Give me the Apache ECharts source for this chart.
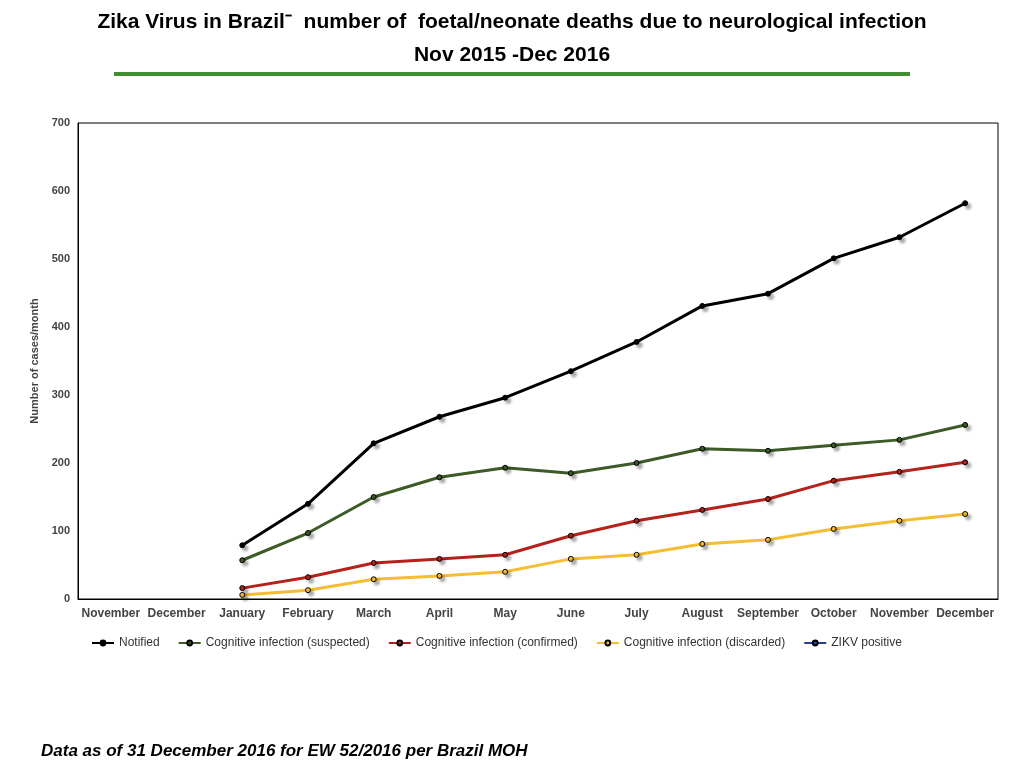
<!DOCTYPE html>
<html><head><meta charset="utf-8">
<script src="https://cdn.jsdelivr.net/npm/echarts@6/dist/echarts.min.js"></script>
<style>html,body{margin:0;background:#fff}#c{width:1024px;height:768px}</style>
</head><body><div id="c"></div>
<script>
const categories = ["November","December","January","February","March","April","May","June","July","August","September","October","November","December"];
const notified   = [null,null,79,140,229,268,296,335,378,431,449,501,532,582];
const suspected  = [null,null,57,97,150,179,193,185,200,221,218,226,234,256];
const confirmed  = [null,null,16,32,53,59,65,93,115,131,147,174,187,201];
const discarded  = [null,null,6,13,29,34,40,59,65,81,87,103,115,125];
const zikv       = [];
const chart = echarts.init(document.getElementById('c'));
function s(name, data, color, width){
  return {name, type:'line', data, symbol:'circle', symbolSize:5, connectNulls:false,
    lineStyle:{color, width}, itemStyle:{color, borderColor:'#000', borderWidth:1,
    shadowColor:'rgba(0,0,0,0.35)', shadowBlur:3, shadowOffsetX:3, shadowOffsetY:3}};
}
chart.setOption({
  animation:false,
  title:[{text:'Data as of 31 December 2016 for EW 52/2016 per Brazil MOH', left:36, top:738,
    textStyle:{fontFamily:'Liberation Sans',fontSize:17,fontWeight:'bold',fontStyle:'italic',color:'#000'}}],
  graphic:[
    {type:'text',left:'center',top:12,style:{text:'Zika Virus in Brazil⁻  number of  foetal/neonate deaths due to neurological infection',
      font:'bold 21px "Liberation Sans"',fill:'#000'}},
    {type:'text',left:'center',top:45,style:{text:'Nov 2015 -Dec 2016',font:'bold 21px "Liberation Sans"',fill:'#000'}},
    {type:'line',shape:{x1:114,y1:74,x2:910,y2:74},style:{stroke:'#3f8f2f',lineWidth:4}}],
  legend:{left:86, top:632, itemWidth:22, itemHeight:6, itemGap:18,
    textStyle:{fontFamily:'Liberation Sans',fontSize:12,color:'#333'},
    data:['Notified','Cognitive infection (suspected)','Cognitive infection (confirmed)','Cognitive infection (discarded)','ZIKV positive']},
  grid:{left:78, right:26, top:123, bottom:169, show:true, borderColor:'#000', borderWidth:1},
  xAxis:{type:'category', data:categories, boundaryGap:true,
    axisLine:{lineStyle:{color:'#000'}}, axisTick:{show:false},
    axisLabel:{fontFamily:'Liberation Sans',fontSize:12,fontWeight:'bold',color:'#444',margin:9,interval:0}},
  yAxis:{type:'value', min:0, max:700, interval:100, name:'Number of cases/month', nameLocation:'middle', nameGap:36,
    nameTextStyle:{fontFamily:'Liberation Sans',fontSize:11,fontWeight:'bold',color:'#444'},
    splitLine:{show:false}, axisLine:{show:true,lineStyle:{color:'#000'}}, axisTick:{show:false},
    axisLabel:{fontFamily:'Liberation Sans',fontSize:11,fontWeight:'bold',color:'#444'}},
  series:[s('Notified',notified,'#000',3), s('Cognitive infection (suspected)',suspected,'#3d5a27',3),
    s('Cognitive infection (confirmed)',confirmed,'#b5221b',3), s('Cognitive infection (discarded)',discarded,'#f4bd33',3),
    s('ZIKV positive',zikv,'#2a3f9a',2)]
});
</script></body></html>
